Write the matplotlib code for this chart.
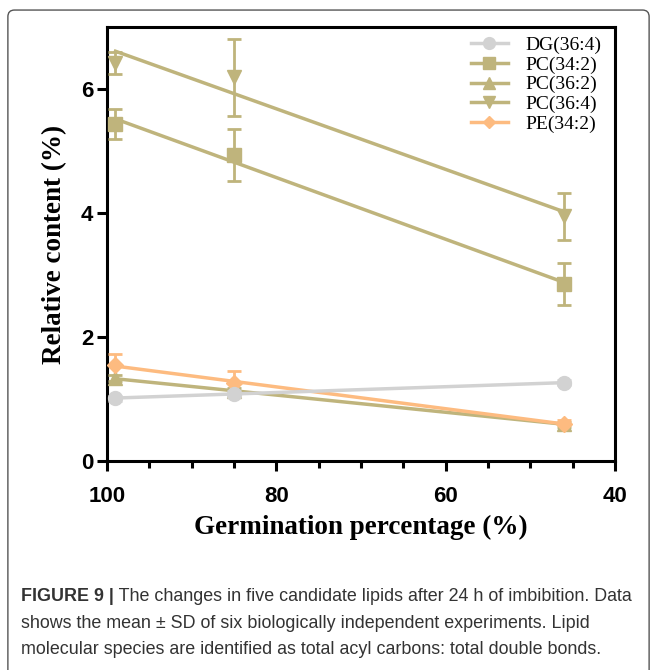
import numpy as np
import matplotlib.pyplot as plt
from matplotlib.patches import FancyBboxPatch

# germination percentage (x) for the three seed lots
germ = [99, 85, 46]

# mean relative content (%) and SD for each lipid
lipids = ['DG(36:4)', 'PC(34:2)', 'PC(36:2)', 'PC(36:4)', 'PE(34:2)']
dg_364 = [1.01, 1.08, 1.26]
dg_364_sd = [0.04, 0.05, 0.04]
pc_342 = [5.44, 4.93, 2.85]
pc_342_sd = [0.24, 0.42, 0.34]
pc_362 = [1.33, 1.12, 0.59]
pc_362_sd = [0.05, 0.05, 0.04]
pc_364 = [6.42, 6.19, 3.95]
pc_364_sd = [0.18, 0.62, 0.38]
pe_342 = [1.55, 1.25, 0.60]
pe_342_sd = [0.18, 0.20, 0.05]

caption_bold = 'FIGURE 9 |'
caption_lines = [' The changes in five candidate lipids after 24 h of imbibition. Data',
                 'shows the mean \u00b1 SD of six biologically independent experiments. Lipid',
                 'molecular species are identified as total acyl carbons: total double bonds.']

tan = '#BFB47C'
grey = '#D2D2D2'
orange = '#FDBB80'

fig = plt.figure(figsize=(6.57, 6.70), dpi=100)
# frame round the whole figure
fig.patches.append(FancyBboxPatch((0.012, -0.05), 0.976, 1.035, boxstyle='round,pad=0,rounding_size=0.01',
                                  transform=fig.transFigure, fill=False, edgecolor='#555555', lw=1.0))
ax = fig.add_axes([0.1629, 0.3124, 0.7732, 0.6469])

series = [
    (dg_364, dg_364_sd, grey, 'o', 10, False, 6),
    (pc_342, pc_342_sd, tan, 's', 9.5, False, 3),
    (pc_362, pc_362_sd, tan, '^', 10, False, 4),
    (pc_364, pc_364_sd, tan, 'v', 10, False, 3),
    (pe_342, pe_342_sd, orange, 'D', 8, True, 5),
]

xs = np.array(germ, dtype=float)
handles = []
for (vals, sd, col, mk, ms, up_only, z), name in zip(series, lipids):
    vals = np.array(vals)
    sd = np.array(sd)
    yerr = [np.zeros_like(sd), sd] if up_only else sd
    ax.errorbar(xs, vals, yerr=yerr, fmt='none', ecolor=col, elinewidth=2.0, capsize=5, capthick=2.0, zorder=z)
    ax.plot(xs, vals, linestyle='none', marker=mk, color=col, markersize=ms, zorder=z)
    # linear regression line through the means
    k, b = np.polyfit(xs, vals, 1)
    xl = np.array([xs.min(), xs.max()])
    ax.plot(xl, k * xl + b, color=col, lw=2.5, zorder=z)
    h, = ax.plot([], [], color=col, lw=2.5, marker=mk, markersize=ms - 1.5, label=name)
    handles.append(h)

ax.set_xlim(100, 40)
ax.set_ylim(0, 7)
ax.set_xticks([100, 80, 60, 40])
ax.set_xticks(np.arange(40, 101, 5), minor=True)
ax.set_yticks([0, 2, 4, 6])

for sp in ax.spines.values():
    sp.set_linewidth(2.2)
ax.tick_params(axis='both', which='major', length=7, width=2.2, labelsize=16)
ax.tick_params(axis='x', which='major', pad=11)
ax.tick_params(axis='y', which='major', pad=3)
ax.tick_params(axis='x', which='minor', length=5, width=2.2)
for lbl in ax.get_xticklabels() + ax.get_yticklabels():
    lbl.set_fontfamily('Liberation Sans')
    lbl.set_fontweight('bold')

ax.set_xlabel('Germination percentage (%)', family='Liberation Serif', fontweight='bold', fontsize=19.5, labelpad=6)
ax.set_ylabel('Relative content (%)', family='Liberation Serif', fontweight='bold', fontsize=19.5, labelpad=10)

ax.legend(handles=handles, loc='upper right', bbox_to_anchor=(1.0, 1.01), frameon=False,
          prop={'family': 'Liberation Serif', 'size': 14}, labelspacing=0.1, handlelength=1.9,
          handletextpad=0.9, borderpad=0.2)

# caption: bold prefix then normal text, three lines
cap_font = ['Liberation Sans', 'DejaVu Sans']
cap_y = [0.110, 0.070, 0.030]
t0 = fig.text(0.032, cap_y[0], caption_bold, family=cap_font, fontweight='bold',
              fontsize=12.9, color='#333333', va='center')
fig.canvas.draw()
bb = t0.get_window_extent(fig.canvas.get_renderer())
x_after = bb.x1 / fig.bbox.width
fig.text(x_after, cap_y[0], caption_lines[0], family=cap_font, fontsize=12.9, color='#333333', va='center')
for line, yy in zip(caption_lines[1:], cap_y[1:]):
    fig.text(0.032, yy, line, family=cap_font, fontsize=12.9, color='#333333', va='center')

fig.savefig('out.png', dpi=100)
